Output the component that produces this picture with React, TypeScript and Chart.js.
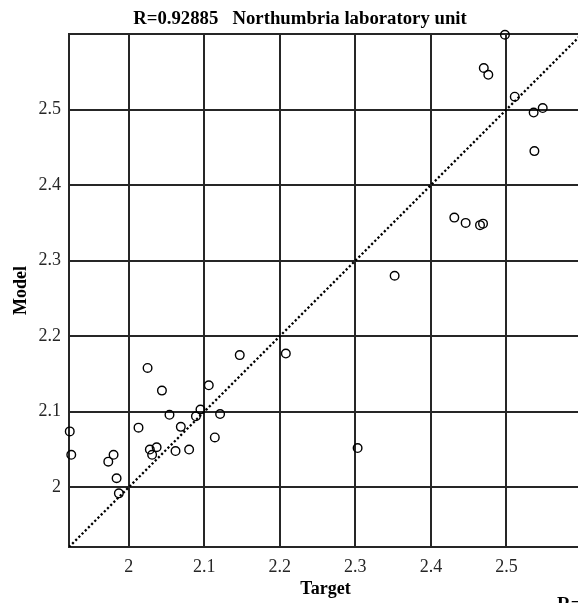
import React, { useEffect, useRef } from "react";
import { Chart, registerables } from "chart.js";

Chart.register(...registerables);

const targetValues = [
  1.922, 1.924, 1.973, 1.98, 1.984, 1.987, 2.013, 2.025, 2.028, 2.031, 2.037, 2.044,
  2.054, 2.062, 2.069, 2.08, 2.089, 2.095, 2.106, 2.114, 2.121, 2.147, 2.208, 2.352,
  2.303, 2.431, 2.446, 2.465, 2.469, 2.498, 2.47, 2.476, 2.511, 2.536, 2.548, 2.537,
];
const modelValues = [
  2.074, 2.043, 2.034, 2.043, 2.012, 1.992, 2.079, 2.158, 2.05, 2.043, 2.053, 2.128,
  2.096, 2.048, 2.08, 2.05, 2.094, 2.103, 2.135, 2.066, 2.097, 2.175, 2.177, 2.28,
  2.052, 2.357, 2.35, 2.347, 2.349, 2.599, 2.555, 2.546, 2.517, 2.496, 2.502, 2.445,
];
const xTickValues = [2, 2.1, 2.2, 2.3, 2.4, 2.5];
const yTickValues = [2, 2.1, 2.2, 2.3, 2.4, 2.5];
const axisMin = 1.921;
const axisMax = 2.6;
const titleText = "R=0.92885   Northumbria laboratory unit";
const xTitle = "Target";
const yTitle = "Model";
const nextTitleFragment = "R=";

const FONT = '"Liberation Serif", "Times New Roman", serif';
const INK = "#262626";

export default function App() {
  const ref = useRef<HTMLCanvasElement | null>(null);

  useEffect(() => {
    if (!ref.current) return;
    const framePlugin = {
      id: "frame",
      beforeDatasetsDraw(chart: any) {
        const { ctx, chartArea } = chart;
        ctx.save();
        ctx.strokeStyle = INK;
        ctx.lineWidth = 2;
        ctx.beginPath();
        ctx.moveTo(chartArea.left, chartArea.top);
        ctx.lineTo(chartArea.right, chartArea.top);
        ctx.lineTo(chartArea.right, chartArea.bottom);
        ctx.stroke();
        ctx.restore();
      },
      afterDraw(chart: any) {
        const { ctx } = chart;
        ctx.save();
        ctx.fillStyle = "#000";
        ctx.font = `bold 18.75px ${FONT}`;
        ctx.textAlign = "center";
        ctx.textBaseline = "middle";
        ctx.fillText(titleText, 300, 19.5);
        ctx.font = `bold 19px ${FONT}`;
        ctx.textAlign = "left";
        ctx.textBaseline = "alphabetic";
        ctx.fillText(nextTitleFragment, 557, 610);
        ctx.restore();
      },
    };

    const chart = new Chart(ref.current, {
      type: "scatter",
      data: {
        datasets: [
          {
            type: "line",
            data: [
              { x: axisMin, y: axisMin },
              { x: axisMax, y: axisMax },
            ],
            borderColor: "#000",
            borderWidth: 2.3,
            borderDash: [2.2, 2.3],
            borderCapStyle: "butt",
            pointRadius: 0,
            fill: false,
          } as any,
          {
            data: targetValues.map((x, i) => ({ x, y: modelValues[i] })),
            pointStyle: "circle",
            pointRadius: 4.3,
            borderWidth: 1.4,
            borderColor: "#000",
            backgroundColor: "rgba(0,0,0,0)",
            clip: false,
          } as any,
        ],
      },
      options: {
        animation: false,
        responsive: false,
        events: [],
        layout: { padding: { left: 0, right: 18, top: 34, bottom: 0 } },
        plugins: {
          legend: { display: false },
          tooltip: { enabled: false },
          title: { display: false },
        },
        scales: {
          x: {
            type: "linear",
            min: axisMin,
            max: axisMax,
            afterBuildTicks: (s: any) => {
              s.ticks = xTickValues.map((v) => ({ value: v }));
            },
            afterFit: (s: any) => {
              s.height = 56;
            },
            ticks: {
              color: INK,
              font: { family: FONT, size: 18 },
              padding: 9,
              maxRotation: 0,
              callback: (v: any) => String(+Number(v).toFixed(1)),
            },
            grid: { color: INK, lineWidth: 2, drawTicks: false },
            border: { display: true, color: INK, width: 2 },
            title: {
              display: true,
              text: xTitle,
              color: "#000",
              font: { family: FONT, size: 18, weight: "bold" },
              padding: { top: 0, bottom: 3 },
            },
          },
          y: {
            type: "linear",
            min: axisMin,
            max: axisMax,
            afterBuildTicks: (s: any) => {
              s.ticks = yTickValues.map((v) => ({ value: v }));
            },
            afterFit: (s: any) => {
              s.width = 69;
            },
            ticks: {
              color: INK,
              font: { family: FONT, size: 18 },
              padding: 8,
              callback: (v: any) => String(+Number(v).toFixed(1)),
            },
            grid: { color: INK, lineWidth: 2, drawTicks: false },
            border: { display: true, color: INK, width: 2 },
            title: {
              display: true,
              text: yTitle,
              color: "#000",
              font: { family: FONT, size: 18, weight: "bold" },
              padding: { top: 11, bottom: 0 },
            },
          },
        },
      },
      plugins: [framePlugin],
    });
    return () => chart.destroy();
  }, []);

  return (
    <div
      style={{
        position: "fixed",
        left: 0,
        top: 0,
        width: 578,
        height: 603,
        overflow: "hidden",
        background: "#fff",
      }}
    >
      <canvas ref={ref} width={600} height={603} style={{ display: "block" }} />
    </div>
  );
}
